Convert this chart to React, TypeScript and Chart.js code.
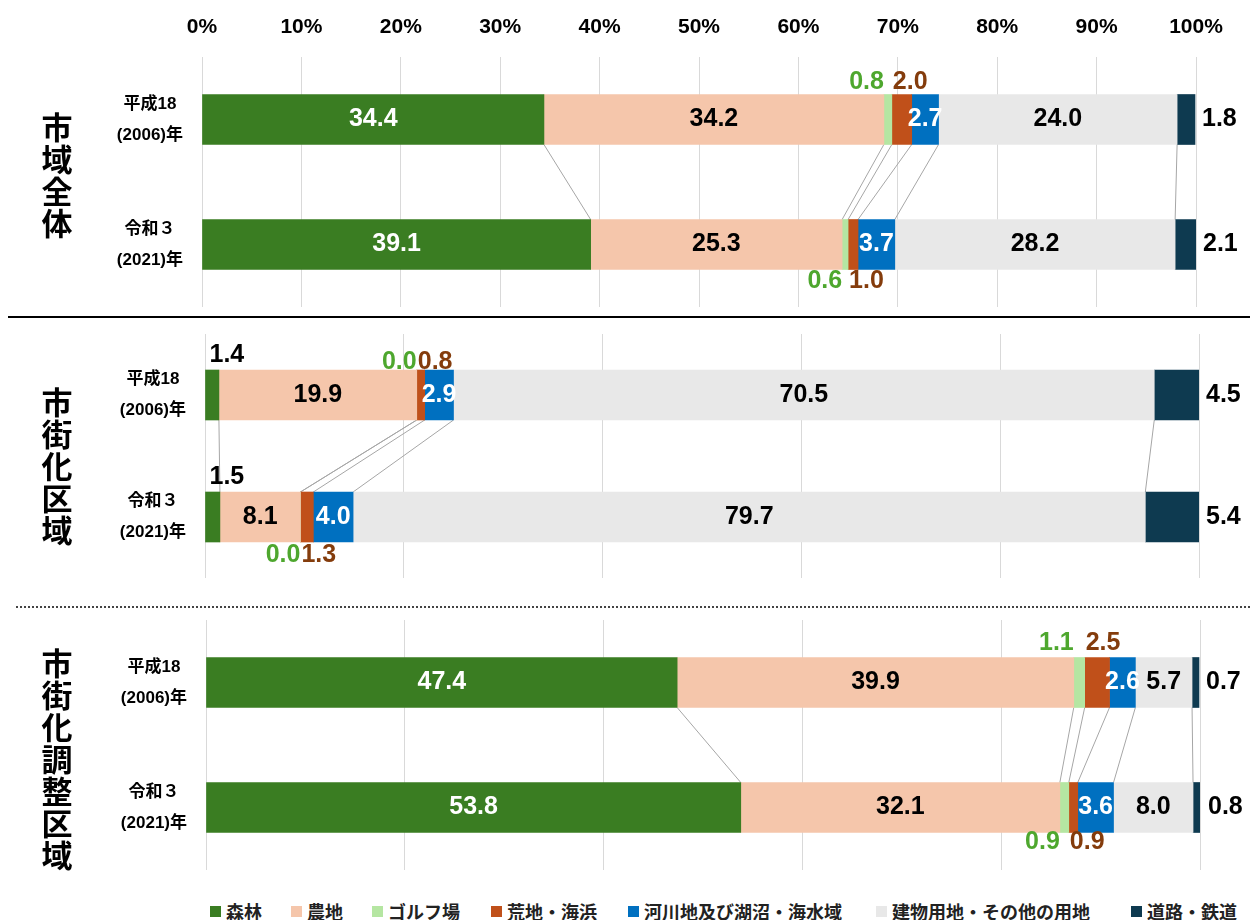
import React, { useEffect, useRef } from 'react';
import { Chart, registerables } from 'chart.js';

Chart.register(...registerables);

// ---- data ----
const categories = ['森林', '農地', 'ゴルフ場', '荒地・海浜', '河川地及び湖沼・海水域', '建物用地・その他の用地', '道路・鉄道'];
const colors = ['#3A7D22', '#F5C6AB', '#B5E6A2', '#C0501A', '#0070C0', '#E8E8E8', '#0E3A50'];
const yearLabels = [['平成18', '(2006)年'], ['令和３', '(2021)年']];
const areaTitles = ['市域全体', '市街化区域', '市街化調整区域'];

const cityAll2006 = [34.4, 34.2, 0.8, 2.0, 2.7, 24.0, 1.8];
const cityAll2021 = [39.1, 25.3, 0.6, 1.0, 3.7, 28.2, 2.1];
const urban2006 = [1.4, 19.9, 0.0, 0.8, 2.9, 70.5, 4.5];
const urban2021 = [1.5, 8.1, 0.0, 1.3, 4.0, 79.7, 5.4];
const control2006 = [47.4, 39.9, 1.1, 2.5, 2.6, 5.7, 0.7];
const control2021 = [53.8, 32.1, 0.9, 0.9, 3.6, 8.0, 0.8];

const xMin = 0;
const xMax = 100;
const FONT = "'Liberation Sans', 'Noto Sans CJK JP', sans-serif";
const CJK = "'Noto Sans CJK JP', 'Liberation Sans', sans-serif";
const legendLeft = [210, 291, 372, 491, 628, 876, 1131];

type PanelProps = {
  title: string;
  a: number[];
  b: number[];
  top: number;
  height: number;
  axisHeight: number;
  areaHeight: number;
  yAxisWidth: number;
  padRight: number;
  gridStep: number;
  showTicks: boolean;
  titleCenterY: number;
  above: number;
  below: number;
  forestOutside: boolean;
};

function Panel(p: PanelProps) {
  const ref = useRef<HTMLCanvasElement | null>(null);
  useEffect(() => {
    if (!ref.current) return;
    const decor = {
      id: 'panelDecor',
      beforeDatasetsDraw(chart: any) {
        const ctx = chart.ctx;
        const n = chart.data.datasets.length;
        const m0 = chart.getDatasetMeta(0).data;
        const y0b = m0[0].y + m0[0].height / 2;
        const y1t = m0[1].y - m0[1].height / 2;
        ctx.save();
        ctx.strokeStyle = '#A6A6A6';
        ctx.lineWidth = 1;
        for (let k = 0; k < n - 1; k++) {
          const d = chart.getDatasetMeta(k).data;
          ctx.beginPath();
          ctx.moveTo(d[0].x, y0b);
          ctx.lineTo(d[1].x, y1t);
          ctx.stroke();
        }
        ctx.restore();
      },
      afterDatasetsDraw(chart: any) {
        const ctx = chart.ctx;
        const n = chart.data.datasets.length;
        ctx.save();
        ctx.font = `bold 25px ${FONT}`;
        ctx.textBaseline = 'middle';
        for (let k = 0; k < n; k++) {
          const meta = chart.getDatasetMeta(k).data;
          const vals = chart.data.datasets[k].data;
          for (let i = 0; i < meta.length; i++) {
            const el = meta[i];
            const v = vals[i] as number;
            const txt = v.toFixed(1);
            const start = el.base;
            const end = el.x;
            const cy = el.y;
            const topY = el.y - el.height / 2;
            const botY = el.y + el.height / 2;
            const vy = i === 0 ? topY - p.above : botY + p.below;
            if (k === 0) {
              if (p.forestOutside) {
                ctx.fillStyle = '#000';
                ctx.textAlign = 'left';
                ctx.fillText(txt, start + 4, topY - 15);
              } else {
                ctx.fillStyle = '#fff';
                ctx.textAlign = 'center';
                ctx.fillText(txt, (start + end) / 2, cy);
              }
            } else if (k === 1 || k === 5) {
              ctx.fillStyle = '#000';
              ctx.textAlign = 'center';
              ctx.fillText(txt, (start + end) / 2, cy);
            } else if (k === 4) {
              ctx.fillStyle = '#fff';
              ctx.textAlign = 'center';
              ctx.fillText(txt, (start + end) / 2, cy);
            } else if (k === 2) {
              ctx.fillStyle = '#4EA72E';
              ctx.textAlign = 'right';
              ctx.fillText(txt, start, vy);
            } else if (k === 3) {
              ctx.fillStyle = '#843C0C';
              ctx.textAlign = 'left';
              ctx.fillText(txt, start + 1, vy);
            } else if (k === 6) {
              ctx.fillStyle = '#000';
              ctx.textAlign = 'left';
              ctx.fillText(txt, end + 7, cy);
            }
          }
        }
        // vertical area title
        ctx.fillStyle = '#000';
        ctx.font = `bold 31px ${CJK}`;
        ctx.textAlign = 'center';
        const chars = Array.from(p.title);
        chars.forEach((c, j) => {
          ctx.fillText(c, 57, p.titleCenterY + (j - (chars.length - 1) / 2) * 32);
        });
        ctx.restore();
      },
    };
    const chart = new Chart(ref.current, {
      type: 'bar',
      data: {
        labels: yearLabels as any,
        datasets: categories.map((name, k) => ({
          label: name,
          data: [p.a[k], p.b[k]],
          backgroundColor: colors[k],
          borderWidth: 0,
          barThickness: 50,
        })),
      },
      options: {
        indexAxis: 'y',
        animation: false,
        responsive: false,
        maintainAspectRatio: false,
        layout: { padding: { left: 0, right: p.padRight, top: 0, bottom: p.height - p.axisHeight - p.areaHeight } },
        plugins: { legend: { display: false }, tooltip: { enabled: false } },
        scales: {
          x: {
            position: 'top',
            stacked: true,
            min: xMin,
            max: xMax,
            ticks: {
              display: p.showTicks,
              stepSize: p.gridStep,
              padding: 17,
              color: '#000',
              font: { size: 21, weight: 'bold', family: FONT },
              callback: (v: any) => v + '%',
            },
            grid: { color: '#D9D9D9', drawTicks: false, lineWidth: 1 },
            border: { display: false },
            afterFit: (s: any) => {
              s.height = p.axisHeight;
              s.paddingLeft = 0;
              s.paddingRight = 0;
              s.paddingTop = 0;
              s.paddingBottom = 0;
            },
          },
          y: {
            stacked: true,
            ticks: {
              padding: 19,
              crossAlign: 'center',
              color: '#000',
              font: { size: 17, weight: 'bold', family: FONT, lineHeight: 1.82 },
            },
            grid: { display: false, drawTicks: false },
            border: { display: false },
            afterFit: (s: any) => {
              s.width = p.yAxisWidth;
              s.paddingLeft = 0;
              s.paddingRight = 0;
              s.paddingTop = 0;
              s.paddingBottom = 0;
            },
          },
        },
      } as any,
      plugins: [decor],
    });
    return () => chart.destroy();
  }, []);
  return (
    <canvas
      ref={ref}
      width={1250}
      height={p.height}
      style={{ position: 'absolute', left: 0, top: p.top, width: 1250, height: p.height }}
    />
  );
}

export default function App() {
  return (
    <div style={{ position: 'absolute', left: 0, top: 0, width: 1250, height: 920, background: '#fff', overflow: 'hidden' }}>
      <Panel title={areaTitles[0]} a={cityAll2006} b={cityAll2021} top={0} height={312} axisHeight={57} areaHeight={250}
        yAxisWidth={202} padRight={54} gridStep={10} showTicks={true} titleCenterY={175}
        above={12} below={12} forestOutside={false} />
      <div style={{ position: 'absolute', left: 8, top: 316, width: 1242, height: 2, background: '#000' }} />
      <Panel title={areaTitles[1]} a={urban2006} b={urban2021} top={318} height={282} axisHeight={16} areaHeight={244}
        yAxisWidth={205} padRight={51} gridStep={20} showTicks={false} titleCenterY={148}
        above={8} below={13} forestOutside={true} />
      <div style={{ position: 'absolute', left: 16, top: 606, width: 1234, height: 0, borderTop: '2px dotted #444' }} />
      <Panel title={areaTitles[2]} a={control2006} b={control2021} top={610} height={282} axisHeight={10} areaHeight={250}
        yAxisWidth={206} padRight={50} gridStep={20} showTicks={false} titleCenterY={149}
        above={14} below={10} forestOutside={false} />
      {categories.map((c, k) => (
        <div key={c} style={{ position: 'absolute', left: legendLeft[k], top: 902, height: 18, display: 'flex', alignItems: 'center',
          fontFamily: CJK, fontWeight: 700, fontSize: 18, lineHeight: '18px', color: '#222', whiteSpace: 'nowrap' }}>
          <span style={{ display: 'inline-block', width: 11, height: 11, background: colors[k], marginRight: 5 }} />
          <span>{c}</span>
        </div>
      ))}
    </div>
  );
}
